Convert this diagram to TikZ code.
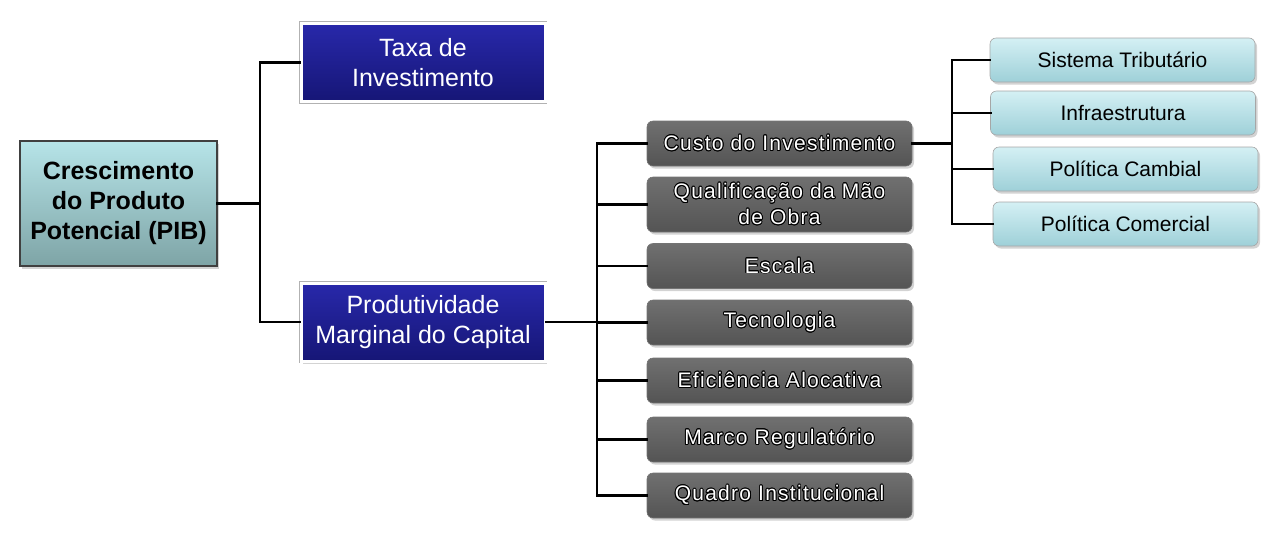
\documentclass[tikz,border=0pt]{standalone}
\usepackage{fontspec}
\setmainfont{Liberation Sans}
\usepackage{contour}
\contourlength{0.9pt}
\usetikzlibrary{shadows}
\definecolor{raiztop}{RGB}{182,228,232}
\definecolor{raizbot}{RGB}{126,164,166}
\definecolor{azultop}{RGB}{40,40,170}
\definecolor{azulbot}{RGB}{22,22,118}
\definecolor{cinzatop}{RGB}{112,112,112}
\definecolor{cinzabot}{RGB}{84,84,84}
\definecolor{cianotop}{RGB}{212,240,244}
\definecolor{cianobot}{RGB}{158,208,216}
\newcommand{\ctr}[1]{\contour{black}{#1}}
\tikzset{
  sombra/.style={drop shadow={opacity=0.35,shadow xshift=2pt,shadow yshift=-2.5pt}},
  raiz/.style={sombra,draw=black!75,line width=1.2pt,top color=raiztop,bottom color=raizbot,
    minimum width=197,minimum height=125,align=center,inner sep=0pt,
    font=\fontsize{25}{30}\selectfont\bfseries},
  azul/.style={sombra,preaction={draw=black!30,line width=4.5pt},draw=white,line width=3pt,
    top color=azultop,bottom color=azulbot,
    minimum width=244,minimum height=78,align=center,inner sep=0pt,text=white,
    font=\fontsize{25}{30}\selectfont},
  cinza/.style={sombra,draw=black!55,line width=0.6pt,rounded corners=6pt,top color=cinzatop,
    bottom color=cinzabot,minimum width=265,minimum height=45,align=center,inner sep=0pt,
    text=white,font=\fontsize{21}{26}\selectfont\addfontfeature{LetterSpace=6}},
  ciano/.style={sombra,draw=black!35,line width=0.6pt,rounded corners=6pt,top color=cianotop,
    bottom color=cianobot,minimum width=265,minimum height=44,align=center,inner sep=0pt,
    font=\fontsize{21}{26}\selectfont},
  liga/.style={line width=2.8pt,line cap=rect}
}
\begin{document}
\begin{tikzpicture}[x=1pt,y=-1pt]
\useasboundingbox (0,0) rectangle (1276,542);
\node[raiz] (pib) at (118.5,203.5) {Crescimento\\do Produto\\Potencial (PIB)};
\node[azul] (taxa) at (423,62.5) {Taxa de\\Investimento};
\node[azul] (pmk) at (423,322) {Produtividade\\Marginal do Capital};

\node[cinza] (custo) at (779.5,143.5) {\ctr{Custo do Investimento}};
\node[cinza,minimum height=55] (qual) at (779.5,204.5) {\ctr{Qualificação da Mão}\\\ctr{de Obra}};
\node[cinza] (escala) at (779.5,266) {\ctr{Escala}};
\node[cinza] (tec) at (779.5,322.5) {\ctr{Tecnologia}};
\node[cinza] (efic) at (779.5,380.5) {\ctr{Eficiência Alocativa}};
\node[cinza] (marco) at (779.5,439.5) {\ctr{Marco Regulatório}};
\node[cinza] (quadro) at (779.5,495.5) {\ctr{Quadro Institucional}};

\node[ciano] (trib) at (1122.5,60) {Sistema Tributário};
\node[ciano] (infra) at (1123,113) {Infraestrutura};
\node[ciano] (camb) at (1125.5,169) {Política Cambial};
\node[ciano] (com) at (1125.5,224) {Política Comercial};

\coordinate (j1) at (260,203.5);
\coordinate (j2) at (597,322);
\coordinate (j3) at (952,143.5);
\draw[liga] (pib.east) -- (j1) |- (taxa.west);
\draw[liga] (j1) |- (pmk.west);
\draw[liga] (pmk.east) -- (j2);
\foreach \n in {custo,qual,escala,tec,efic,marco,quadro}
  \draw[liga] (j2) |- (\n.west);
\draw[liga] (custo.east) -- (j3);
\foreach \n in {trib,infra,camb,com}
  \draw[liga] (j3) |- (\n.west);
\end{tikzpicture}
\end{document}
